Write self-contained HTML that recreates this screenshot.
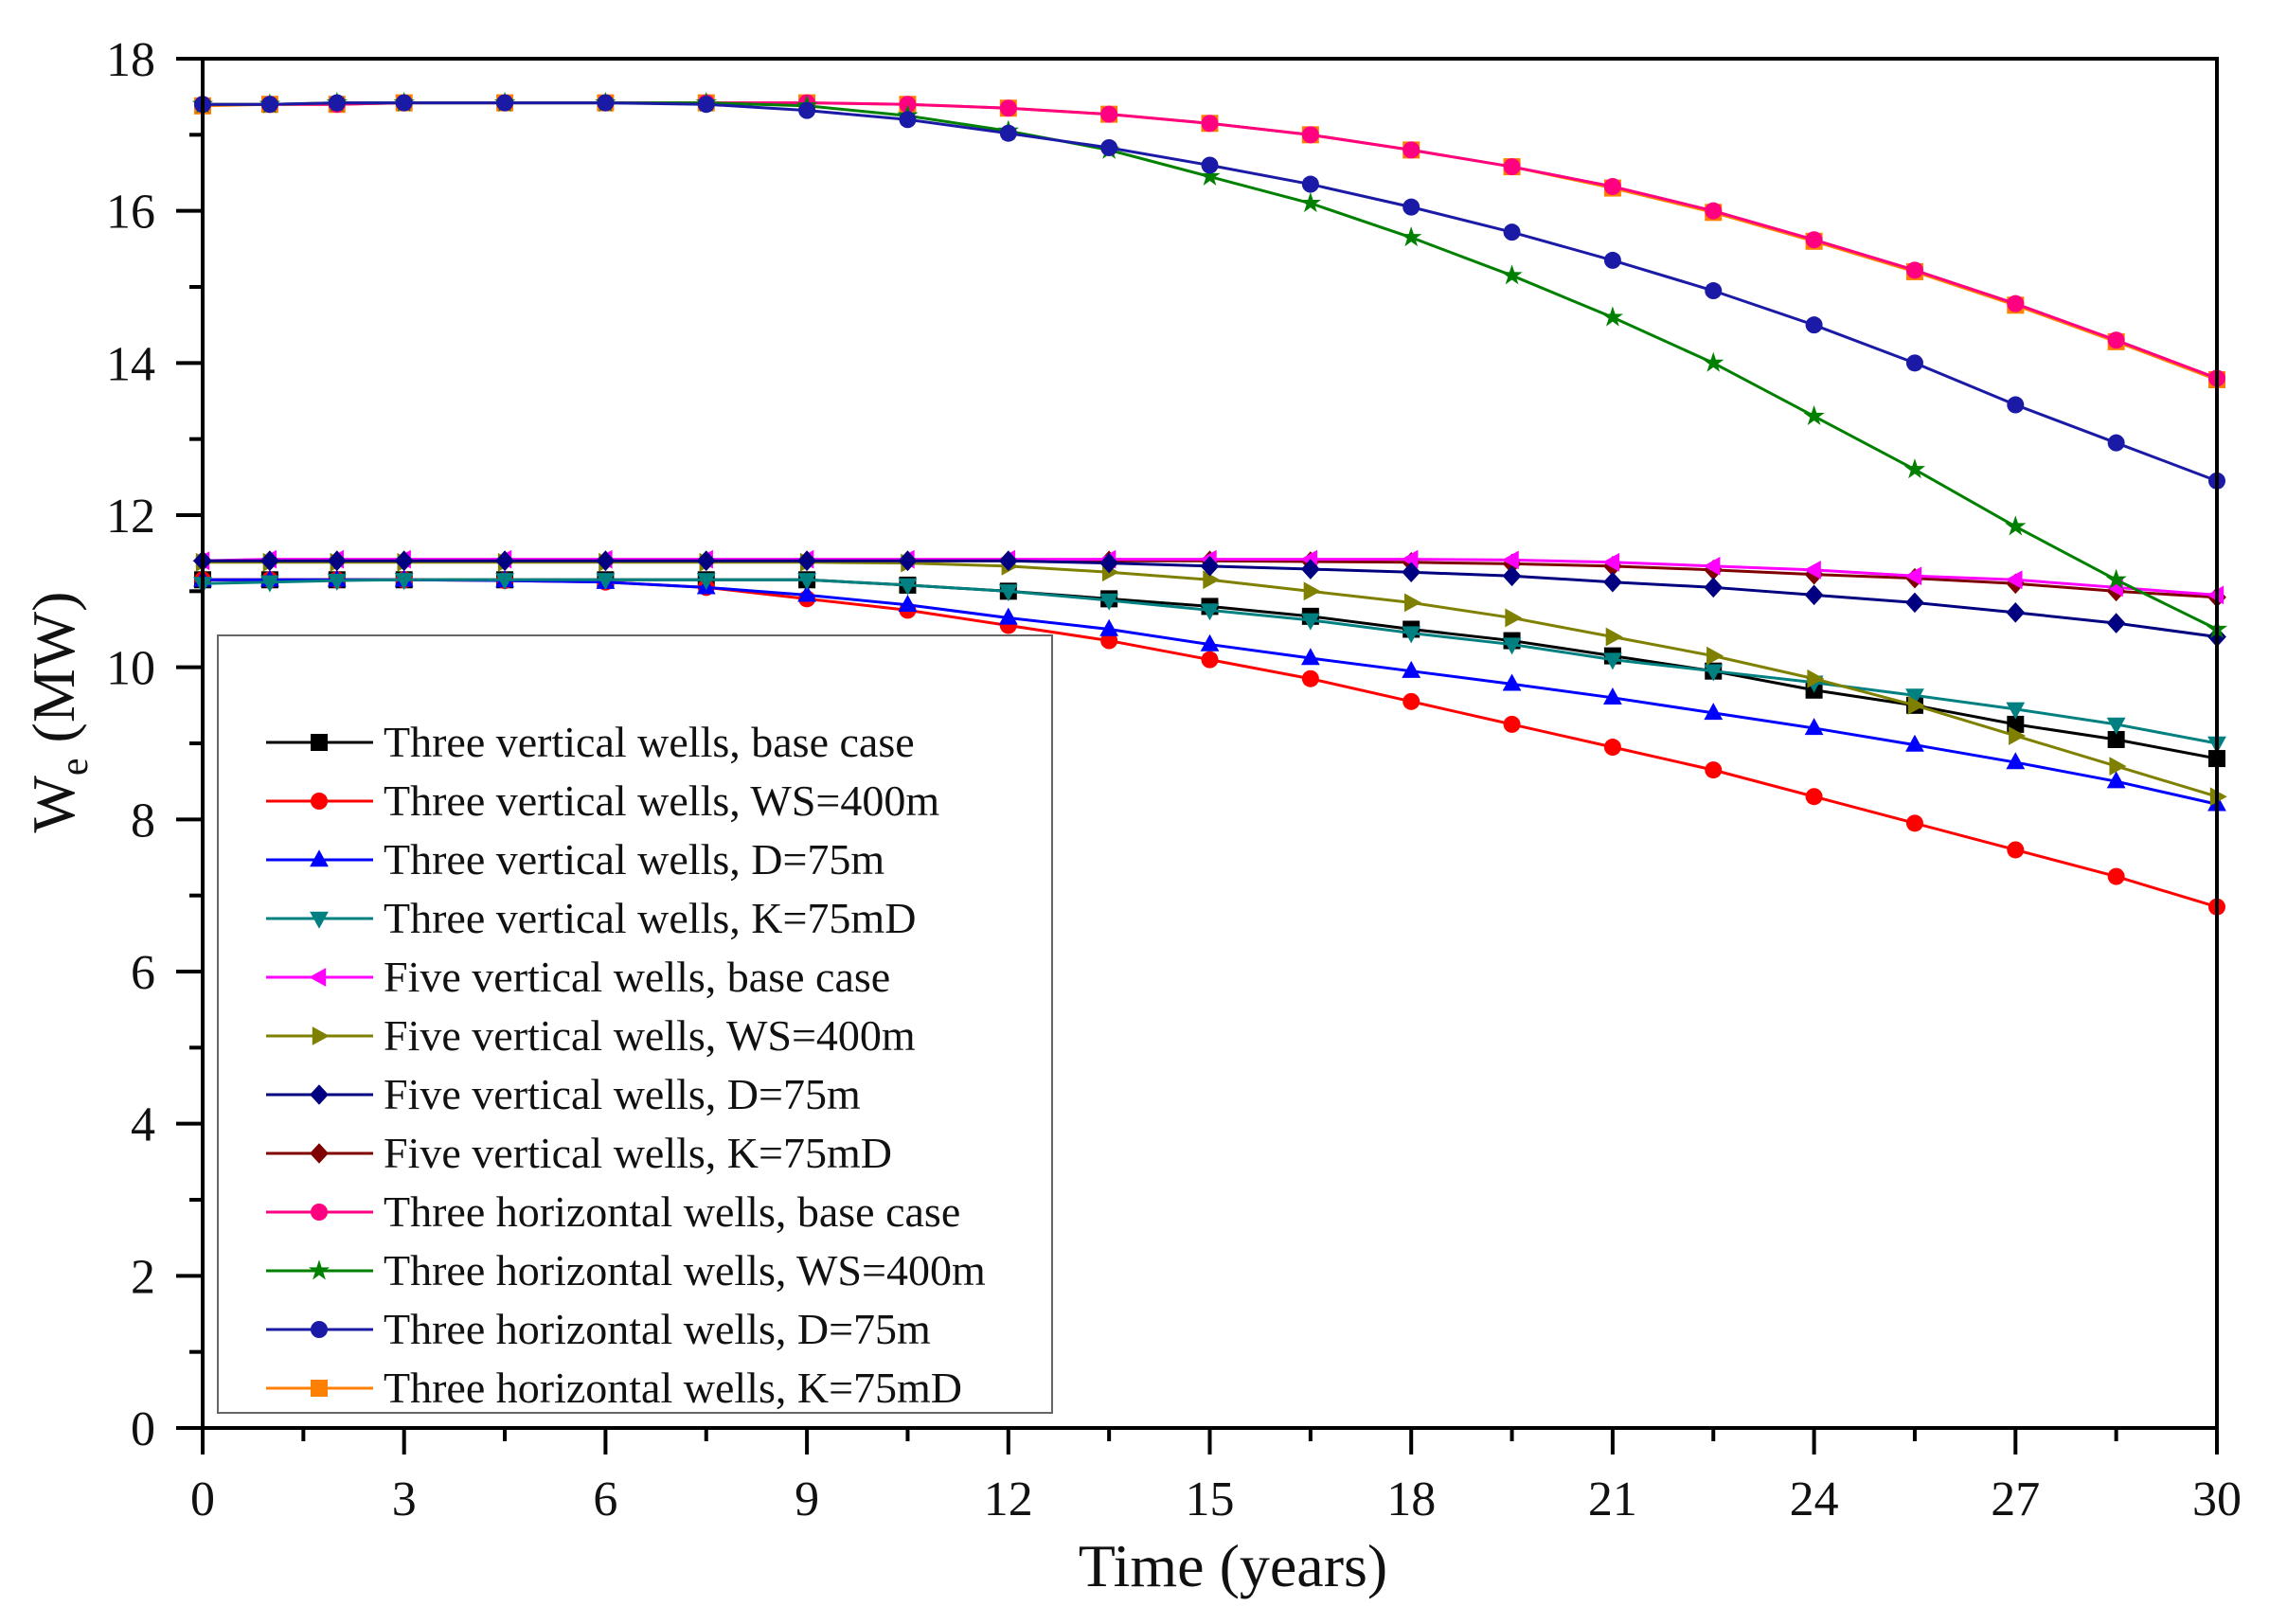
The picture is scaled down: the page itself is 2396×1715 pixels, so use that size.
<!DOCTYPE html>
<html><head><meta charset="utf-8"><style>
html,body{margin:0;padding:0;background:#fff}
svg{display:block}
text{font-family:"Liberation Serif",serif;fill:#111}
</style></head><body>
<svg id="chart" width="2396" height="1715" viewBox="0 0 2396 1715" xmlns="http://www.w3.org/2000/svg">
<g id="grid"></g>
<g id="series"></g>
<g id="axes"></g>
<g id="legend"></g>
</svg>
<script>
const times=[0,1,2,3,4.5,6,7.5,9,10.5,12,13.5,15,16.5,18,19.5,21,22.5,24,25.5,27,28.5,30];
const seriesNames=["Three vertical wells, base case","Three vertical wells, WS=400m","Three vertical wells, D=75m","Three vertical wells, K=75mD","Five vertical wells, base case","Five vertical wells, WS=400m","Five vertical wells, D=75m","Five vertical  wells, K=75mD","Three horizontal wells, base case","Three horizontal wells, WS=400m","Three horizontal wells, D=75m","Three horizontal wells, K=75mD"];
const v3Base=[11.15,11.15,11.15,11.15,11.15,11.15,11.15,11.15,11.08,11.0,10.9,10.8,10.67,10.5,10.35,10.15,9.95,9.7,9.5,9.25,9.05,8.8];
const v3WS=[11.15,11.15,11.15,11.15,11.14,11.12,11.05,10.9,10.75,10.55,10.35,10.1,9.85,9.55,9.25,8.95,8.65,8.3,7.95,7.6,7.25,6.85];
const v3D=[11.15,11.15,11.15,11.15,11.14,11.12,11.05,10.95,10.82,10.65,10.5,10.3,10.12,9.95,9.78,9.6,9.4,9.2,8.98,8.75,8.5,8.2];
const v3K=[11.1,11.12,11.14,11.15,11.15,11.15,11.15,11.15,11.08,11.0,10.88,10.75,10.62,10.45,10.3,10.1,9.95,9.8,9.63,9.45,9.25,9.0];
const v5Base=[11.4,11.42,11.42,11.42,11.42,11.42,11.42,11.42,11.42,11.42,11.42,11.42,11.42,11.42,11.41,11.38,11.33,11.28,11.2,11.15,11.05,10.95];
const v5WS=[11.38,11.38,11.38,11.38,11.38,11.38,11.38,11.38,11.37,11.33,11.25,11.15,11.0,10.85,10.65,10.4,10.15,9.85,9.5,9.1,8.7,8.3];
const v5D=[11.4,11.4,11.4,11.4,11.4,11.4,11.4,11.4,11.4,11.4,11.37,11.33,11.29,11.25,11.2,11.12,11.05,10.95,10.85,10.72,10.58,10.4];
const v5K=[11.4,11.4,11.4,11.4,11.4,11.4,11.4,11.4,11.4,11.4,11.4,11.4,11.39,11.38,11.36,11.33,11.28,11.22,11.17,11.1,11.0,10.92];
const hBase=[17.4,17.4,17.4,17.42,17.42,17.42,17.42,17.42,17.4,17.35,17.27,17.15,17.0,16.8,16.58,16.32,16.0,15.62,15.22,14.78,14.3,13.8];
const hWS=[17.4,17.4,17.42,17.42,17.42,17.42,17.42,17.38,17.25,17.05,16.8,16.45,16.1,15.65,15.15,14.6,14.0,13.3,12.6,11.85,11.15,10.5];
const hD=[17.4,17.4,17.42,17.42,17.42,17.42,17.4,17.32,17.2,17.02,16.83,16.6,16.35,16.05,15.72,15.35,14.95,14.5,14.0,13.45,12.95,12.45];
const hK=[17.38,17.4,17.4,17.42,17.42,17.42,17.42,17.42,17.4,17.35,17.27,17.15,17.0,16.8,16.58,16.3,15.98,15.6,15.2,14.76,14.28,13.78];
const xTicks=[0,3,6,9,12,15,18,21,24,27,30];
const yTicks=[0,2,4,6,8,10,12,14,16,18];

const NS="http://www.w3.org/2000/svg";
const L=214,R=2341,T=62,B=1508;
const xs=t=>L+(R-L)*t/30;
const ys=v=>B-(B-T)*v/18;
function mk(tag,attrs,parent){const e=document.createElementNS(NS,tag);for(const k in attrs)e.setAttribute(k,attrs[k]);parent.appendChild(e);return e;}
const gS=document.getElementById('series'),gA=document.getElementById('axes'),gL=document.getElementById('legend');
const colors=["#000000","#ff0000","#0000ff","#008080","#ff00ff","#808000","#000080","#800000","#ff0080","#008000","#1a1aa6","#ff8000"];
const shapes=["square","circle","up","down","left","right","diamond","diamond","circle","star","circle","square"];
const data=[v3Base,v3WS,v3D,v3K,v5Base,v5WS,v5D,v5K,hBase,hWS,hD,hK];
const drawOrder=[0,1,2,3,7,4,5,6,11,8,9,10];
function marker(shape,x,y,c,parent){
  const s=9;let e;
  if(shape==="square")e=mk('rect',{x:x-s,y:y-s,width:2*s,height:2*s,fill:c},parent);
  else if(shape==="circle")e=mk('circle',{cx:x,cy:y,r:s,fill:c},parent);
  else{
    let p;
    if(shape==="up")p=[[0,-s*1.2],[s*1.1,s*.8],[-s*1.1,s*.8]];
    else if(shape==="down")p=[[0,s*1.2],[s*1.1,-s*.8],[-s*1.1,-s*.8]];
    else if(shape==="left")p=[[-s*1.2,0],[s*.8,-s*1.1],[s*.8,s*1.1]];
    else if(shape==="right")p=[[s*1.2,0],[-s*.8,-s*1.1],[-s*.8,s*1.1]];
    else if(shape==="diamond")p=[[0,-s*1.2],[s*1.1,0],[0,s*1.2],[-s*1.1,0]];
    else{p=[];for(let i=0;i<10;i++){const r=i%2?s*.5:s*1.3;const a=-Math.PI/2+i*Math.PI/5;p.push([r*Math.cos(a),r*Math.sin(a)]);}}
    e=mk('polygon',{points:p.map(q=>(x+q[0])+','+(y+q[1])).join(' '),fill:c},parent);
  }
  return e;
}
drawOrder.forEach(i=>{
  const arr=data[i];
  const g=mk('g',{},gS);
  
  
  const pl=mk('polyline',{points:arr.map((v,j)=>xs(times[j])+','+ys(v)).join(' '),fill:'none',stroke:colors[i],'stroke-width':3},g);
  
  
  arr.forEach((v,j)=>{
    const m=marker(shapes[i],xs(times[j]),ys(v),colors[i],g);
    
    
  });
});
const fr=mk('rect',{x:L,y:T,width:R-L,height:B-T,fill:'none',stroke:'#000','stroke-width':4},gA);


for(let v=0;v<=18;v++){
  const len=v%2===0?28:14;
  mk('line',{x1:L-len,x2:L,y1:ys(v),y2:ys(v),stroke:'#000','stroke-width':4},gA);
}
yTicks.forEach(v=>{
  const t=mk('text',{x:L-50,y:ys(v)+18,'font-size':52,'text-anchor':'end'},gA);
  t.textContent=v;
  
  
});
for(let k=0;k<=20;k++){
  const t=k*1.5;const len=k%2===0?28:14;
  mk('line',{x1:xs(t),x2:xs(t),y1:B,y2:B+len,stroke:'#000','stroke-width':4},gA);
}
xTicks.forEach(v=>{
  const t=mk('text',{x:xs(v),y:1600,'font-size':52,'text-anchor':'middle'},gA);
  t.textContent=v;
  
  
});
const xt=mk('text',{x:1302,y:1675,'font-size':64,'text-anchor':'middle'},gA);
xt.textContent='Time (years)';


const yt=mk('text',{x:0,y:0,'font-size':64,'text-anchor':'middle',transform:'translate(78,752) rotate(-90)'},gA);
yt.innerHTML='W<tspan font-size="42" dy="14">e</tspan><tspan dy="-14"> (MW)</tspan>';


const lb=mk('rect',{x:230,y:671,width:881,height:821,fill:'#fff',stroke:'#666','stroke-width':2},gL);


seriesNames.forEach((n,i)=>{
  const y=784+i*62;
  const g=mk('g',{},gL);
  
  
  mk('line',{x1:281,x2:394,y1:y,y2:y,stroke:colors[i],'stroke-width':3},g);
  marker(shapes[i],337,y,colors[i],g);
  const t=mk('text',{x:405,y:y+15,'font-size':46},g);
  t.textContent=n;
});
</script>
</body></html>
